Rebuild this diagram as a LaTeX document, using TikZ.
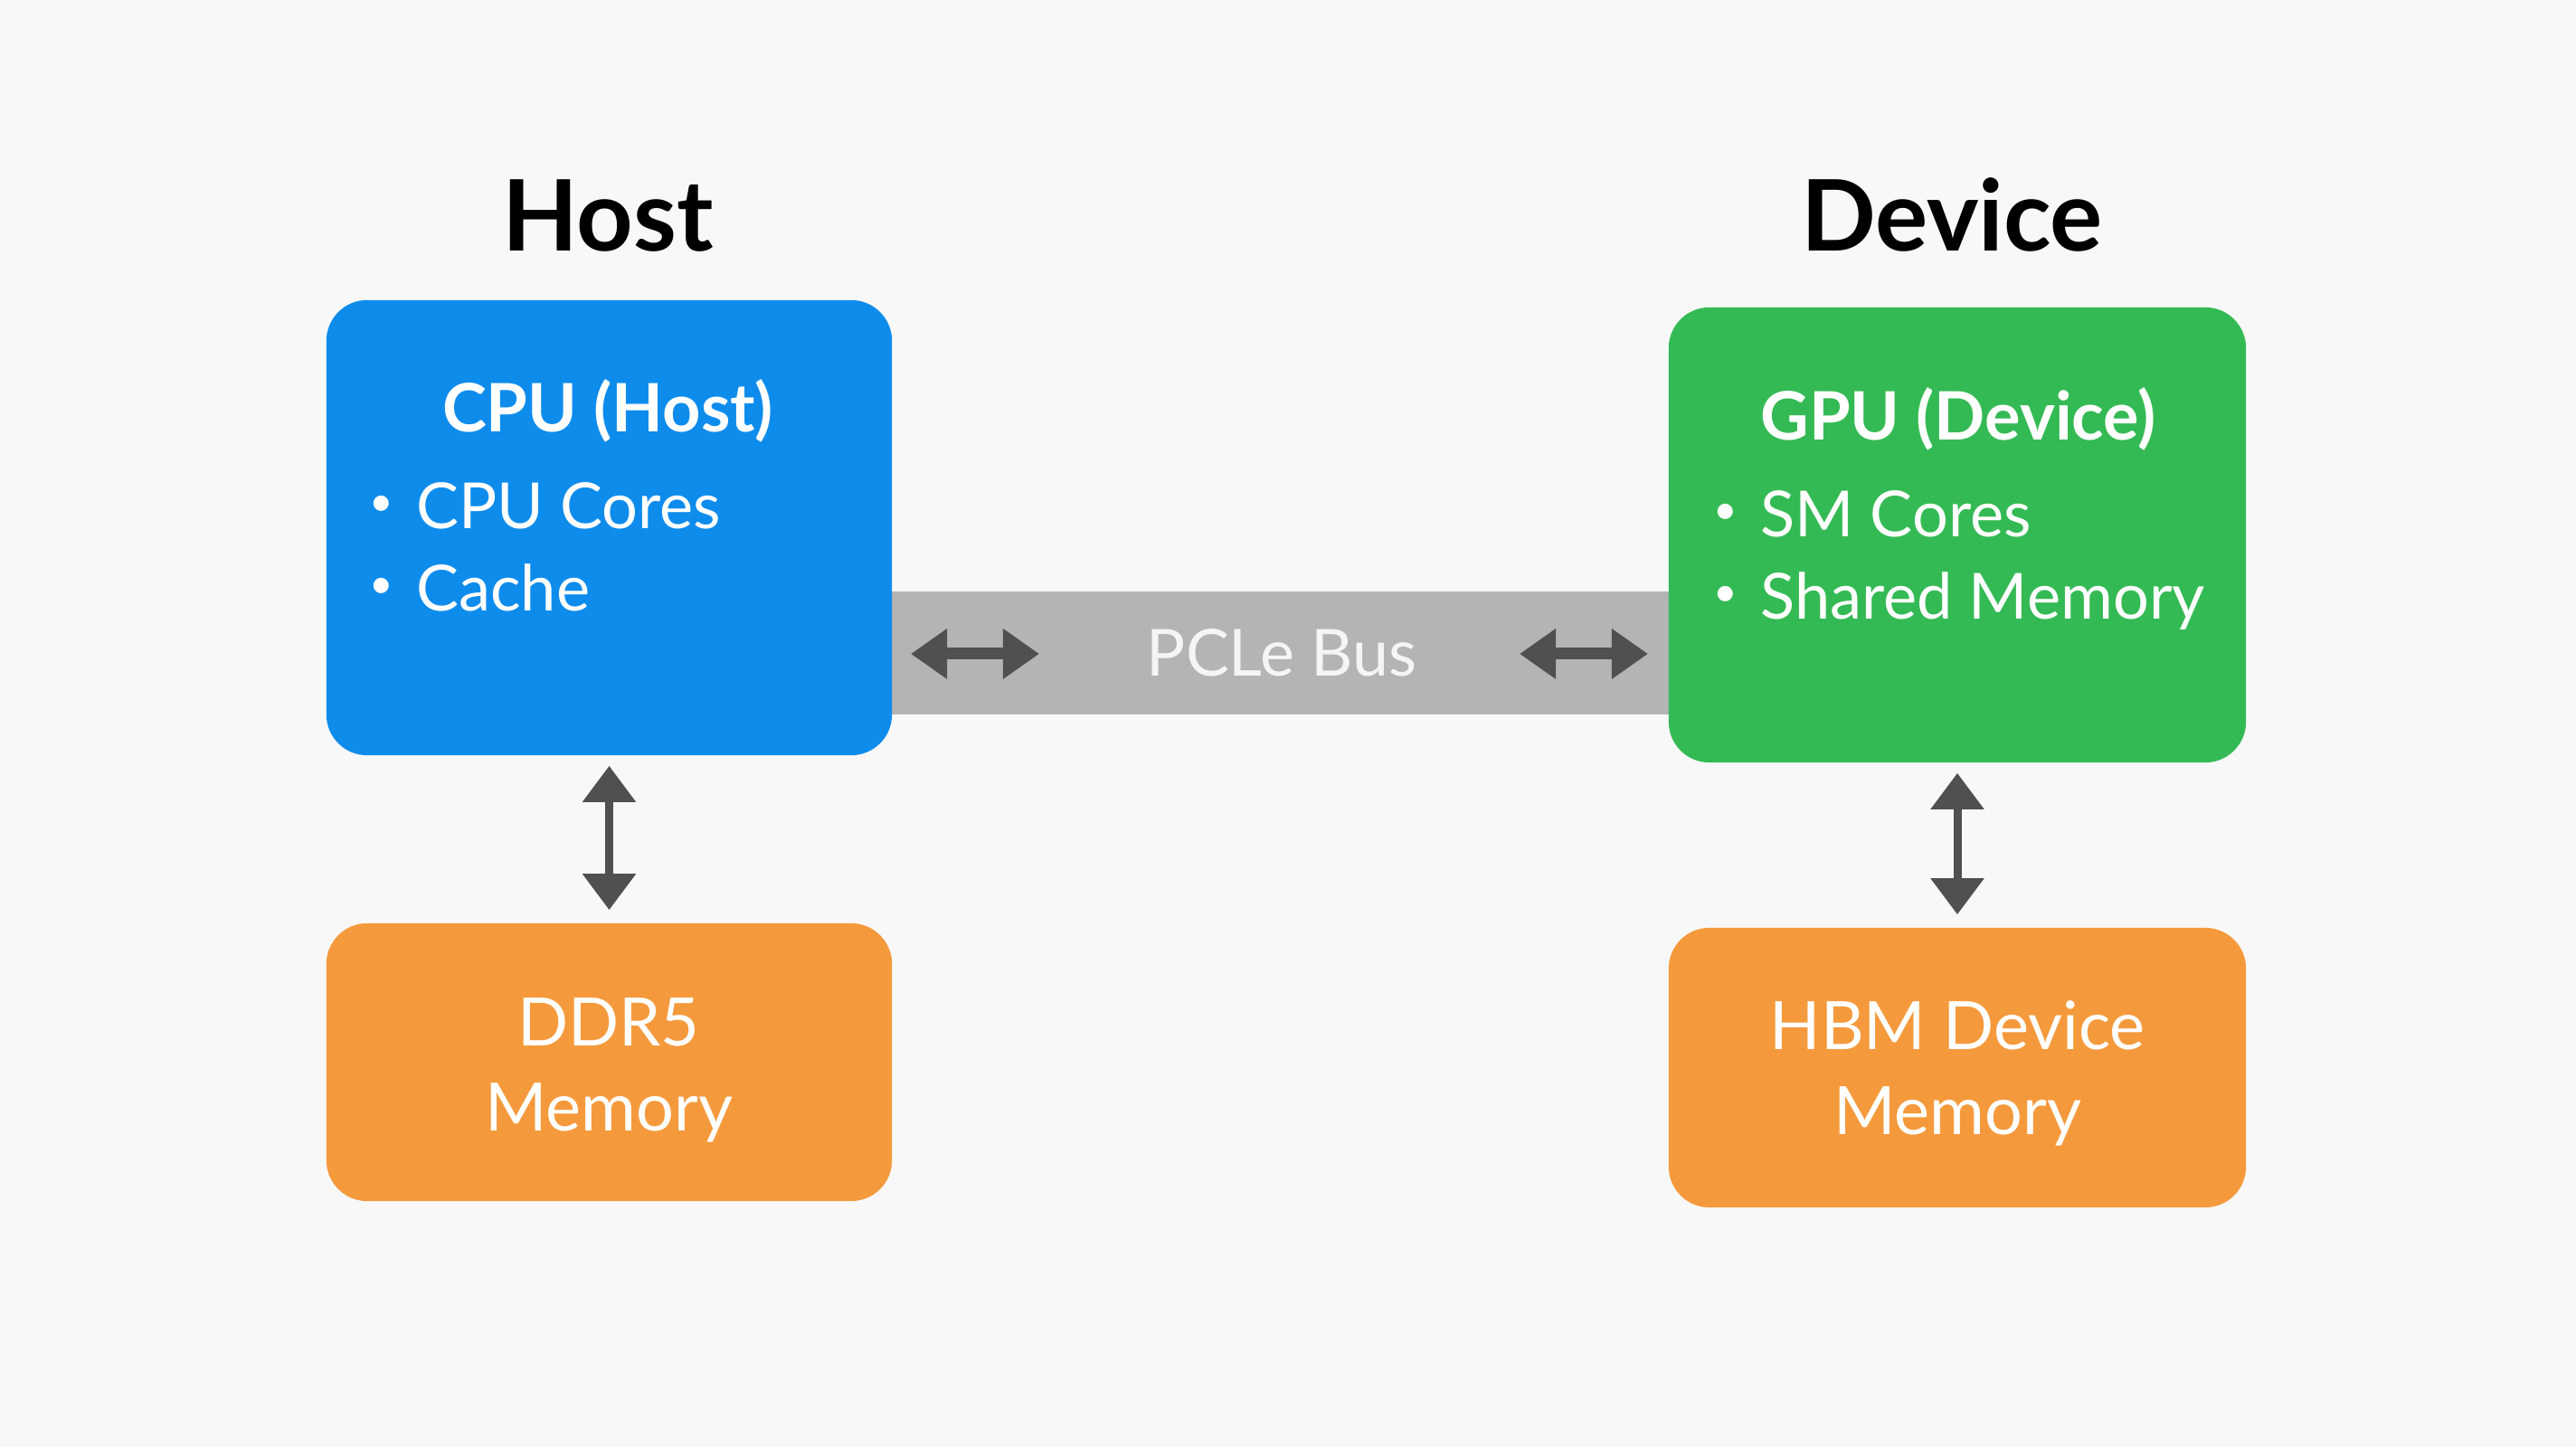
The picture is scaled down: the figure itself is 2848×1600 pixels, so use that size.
\documentclass[tikz,border=0pt]{standalone}
\usepackage{fontspec}
\setmainfont{Lato}
\usetikzlibrary{positioning,arrows.meta}

\definecolor{paper}{RGB}{248,248,248}
\definecolor{hostblue}{RGB}{14,140,236}
\definecolor{devgreen}{RGB}{52,186,84}
\definecolor{memorange}{RGB}{245,154,60}
\definecolor{busgray}{RGB}{180,180,180}
\definecolor{linkgray}{RGB}{80,80,80}

\newcommand{\dotmark}{\llap{\raisebox{0.2em}{\fontsize{13}{13}\selectfont\textbullet}\hspace{0.36em}}}

\tikzset{
	unit/.style={rounded corners=0.45cm, inner sep=0pt},
	heading/.style={font=\fontsize{31}{36}\selectfont\bfseries, anchor=base},
	boxtitle/.style={text=white, font=\fontsize{21}{26}\selectfont\bfseries, anchor=base},
	item/.style={text=white, font=\fontsize{20}{24}\selectfont, anchor=base west},
	memtext/.style={text=white, font=\fontsize{21}{26}\selectfont, anchor=base},
	vlink/.style={draw=linkgray, line width=0.09cm, {Triangle[length=0.4cm,width=0.57cm]}-{Triangle[length=0.4cm,width=0.57cm]}, shorten <=0.11cm, shorten >=0.14cm},
	hlink/.style={draw=linkgray, line width=0.13cm, {Triangle[length=0.4cm,width=0.53cm]}-{Triangle[length=0.4cm,width=0.53cm]}},
}

\begin{document}
\begin{tikzpicture}[x=0.01cm, y=0.01cm]
	\fill[paper] (0,0) rectangle (2848,1600);
	\useasboundingbox (0,0) rectangle (2848,1600);
	
	% bus behind the two processors
	\node[fill=busgray, minimum width=8.59cm, minimum height=1.36cm, inner sep=0pt] (pcie) at (1415.5,878) {};
	\node[text=white!96!black, font=\fontsize{20.4}{25}\selectfont, anchor=base] (pcielabel) at (1417,852) {PCLe Bus};
	
	% boxes
	\node[unit, fill=hostblue, minimum width=6.25cm, minimum height=5.03cm] (cpu) at (673.5,1016.5) {};
	\node[unit, fill=devgreen, minimum width=6.38cm, minimum height=5.03cm] (gpu) at (2164,1008.5) {};
	\node[unit, fill=memorange, minimum width=6.25cm, minimum height=3.07cm] (ddr) at (673.5,425.5) {};
	\node[unit, fill=memorange, minimum width=6.38cm, minimum height=3.09cm] (hbm) at (2164,419.5) {};
	
	% texts
	\node[heading] (host) at (672,1322) {Host};
	\node[heading] (device) at (2158,1322) {Device};
	\node[boxtitle] (cputitle) at (672,1122) {CPU (Host)};
	\node[item] (cpuA) at (448,1015) {\dotmark CPU Cores};
	\node[item] (cpuB) at (448,924) {\dotmark Cache};
	\node[boxtitle] (gputitle) at (2165,1113) {GPU (Device)};
	\node[item] (gpuA) at (1934,1006) {\dotmark SM Cores};
	\node[item] (gpuB) at (1934,915) {\dotmark Shared Memory};
	\node[memtext] (ddrA) at (673,443) {DDR5};
	\node[memtext] (ddrB) at (673,349) {Memory};
	\node[memtext] (hbmA) at (2164,439) {HBM Device};
	\node[memtext] (hbmB) at (2164,345) {Memory};
	
	% links
	\coordinate (busL1) at (1007,877);
	\coordinate (busL2) at (1149,877);
	\coordinate (busR1) at (1680,877);
	\coordinate (busR2) at (1822,877);
	\draw[hlink] (busL1) -- (busL2);
	\draw[hlink] (busR1) -- (busR2);
	\draw[vlink] (cpu) -- (ddr);
	\draw[vlink] (gpu) -- (hbm);
\end{tikzpicture}
\end{document}
